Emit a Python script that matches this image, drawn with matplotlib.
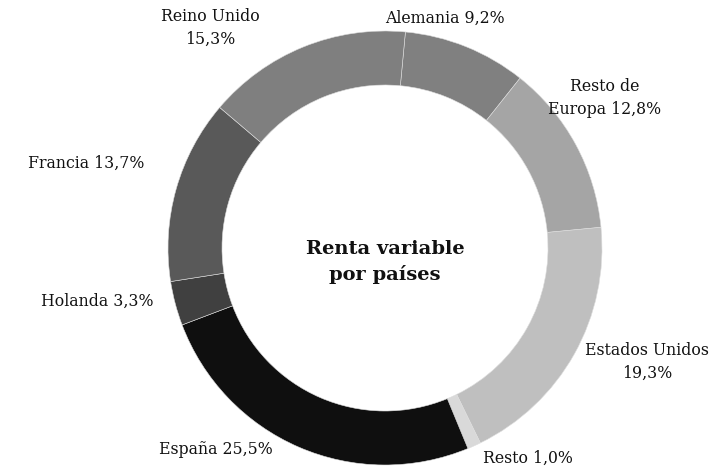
import matplotlib
matplotlib.use("Agg")
import matplotlib.pyplot as plt

# -------------------------
# Data
# -------------------------
countries = ["Alemania", "Resto de\nEuropa", "Estados Unidos\n", "Resto", "España",
             "Holanda", "Francia", "Reino Unido\n"]
shares = [9.2, 12.8, 19.3, 1.0, 25.5, 3.3, 13.7, 15.3]
colors = ["#808080", "#a5a5a5", "#bfbfbf", "#d9d9d9", "#0f0f0f",
          "#404040", "#595959", "#7f7f7f"]

# label anchor positions in pixels (x, y from top)
label_pos = [(445, 18), (605, 98), (647, 362), (528, 458), (216, 450),
             (97, 301), (86, 163), (210, 28)]

title = "Renta variable\npor países"

# -------------------------
# Plot
# -------------------------
W, H = 728, 470
fig = plt.figure(figsize=(W / 100, H / 100), dpi=100)
ax = fig.add_axes([0, 0, 1, 1])

cx, cy, r_out = 385, H - 248, 217
ax.pie(shares, colors=colors, startangle=84.6, counterclock=False,
       center=(cx, cy), radius=r_out, frame=True,
       wedgeprops=dict(width=54, edgecolor="#dddddd", linewidth=0.4))
ax.set_xlim(0, W)
ax.set_ylim(0, H)
ax.set_aspect("equal")
ax.axis("off")

for name, val, (x, y) in zip(countries, shares, label_pos):
    pct = f"{val:.1f}".replace(".", ",") + "%"
    txt = name + pct if name.endswith("\n") else f"{name} {pct}"
    ax.text(x, H - y, txt, ha="center", va="center", fontsize=11.3,
            family="DejaVu Serif", color="#111111", linespacing=1.5)

ax.text(cx, H - 262, title, ha="center", va="center", fontsize=14,
        fontweight="bold", family="DejaVu Serif", color="#111111",
        linespacing=1.45)

fig.savefig("out.png", dpi=100, facecolor="white")
